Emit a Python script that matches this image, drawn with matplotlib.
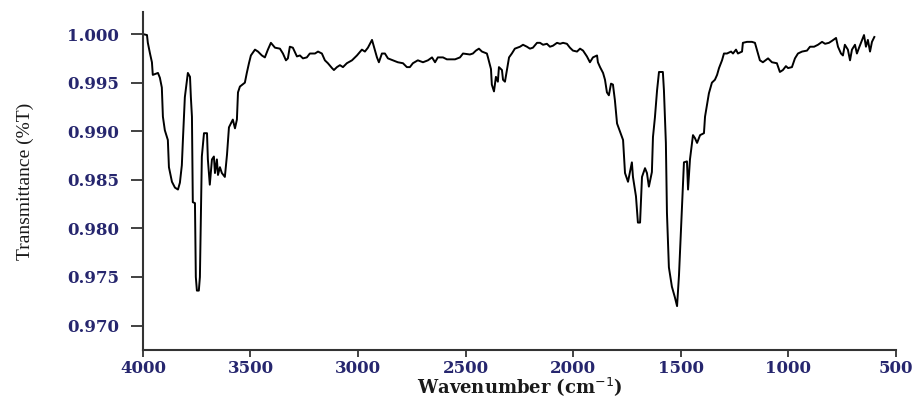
import matplotlib
matplotlib.use("Agg")
import matplotlib.pyplot as plt

# FTIR spectrum
wavenumber = [
    4000, 3981, 3977, 3967, 3958, 3954, 3930, 3921, 3912, 3907,
    3898, 3884, 3879, 3865, 3851, 3837, 3828, 3819, 3814, 3805,
    3791, 3781, 3777, 3772, 3768, 3758, 3754, 3749, 3740, 3735,
    3730, 3726, 3716, 3702, 3698, 3689, 3679, 3670, 3665, 3656,
    3651, 3642, 3633, 3619, 3609, 3600, 3582, 3572, 3563, 3558,
    3549, 3526, 3517, 3507, 3498, 3479, 3465, 3447, 3433, 3419,
    3405, 3386, 3363, 3349, 3335, 3326, 3317, 3303, 3284, 3270,
    3256, 3238, 3224, 3200, 3186, 3168, 3154, 3140, 3121, 3112,
    3098, 3084, 3070, 3052, 3028, 3005, 2982, 2968, 2954, 2935,
    2926, 2912, 2903, 2889, 2875, 2861, 2838, 2815, 2791, 2773,
    2759, 2745, 2722, 2698, 2675, 2656, 2642, 2629, 2605, 2587,
    2563, 2549, 2526, 2512, 2480, 2466, 2452, 2438, 2424, 2401,
    2396, 2382, 2378, 2368, 2359, 2350, 2345, 2331, 2326, 2317,
    2308, 2298, 2285, 2271, 2247, 2233, 2215, 2201, 2187, 2168,
    2154, 2140, 2122, 2108, 2094, 2075, 2061, 2047, 2029, 2015,
    2001, 1982, 1968, 1954, 1936, 1922, 1908, 1889, 1885, 1875,
    1861, 1852, 1843, 1834, 1824, 1815, 1806, 1796, 1768, 1759,
    1745, 1727, 1722, 1708, 1699, 1689, 1680, 1666, 1657, 1648,
    1634, 1629, 1620, 1610, 1601, 1583, 1578, 1569, 1564, 1555,
    1541, 1527, 1517, 1508, 1494, 1485, 1471, 1466, 1457, 1443,
    1434, 1424, 1410, 1392, 1387, 1378, 1369, 1355, 1341, 1331,
    1322, 1308, 1299, 1285, 1266, 1257, 1243, 1234, 1215, 1211,
    1192, 1169, 1155, 1146, 1132, 1118, 1094, 1076, 1053, 1039,
    1025, 1011, 1001, 983, 969, 955, 936, 913, 899, 880,
    862, 843, 829, 811, 797, 778, 769, 755, 746, 737,
    723, 713, 704, 690, 681, 671, 657, 648, 639, 630,
    620, 611, 600,
]
transmittance = [
    1.0000, 0.9999, 0.9991, 0.9980, 0.9971, 0.9958, 0.9960, 0.9955, 0.9945, 0.9915,
    0.9901, 0.9891, 0.9863, 0.9848, 0.9842, 0.9840, 0.9847, 0.9865, 0.9891, 0.9935,
    0.9960, 0.9956, 0.9935, 0.9915, 0.9827, 0.9826, 0.9750, 0.9736, 0.9736, 0.9750,
    0.9817, 0.9874, 0.9898, 0.9898, 0.9871, 0.9845, 0.9871, 0.9874, 0.9857, 0.9871,
    0.9855, 0.9863, 0.9857, 0.9853, 0.9876, 0.9904, 0.9912, 0.9903, 0.9912, 0.9940,
    0.9946, 0.9950, 0.9960, 0.9970, 0.9978, 0.9984, 0.9982, 0.9978, 0.9976, 0.9984,
    0.9991, 0.9986, 0.9985, 0.9980, 0.9973, 0.9975, 0.9987, 0.9986, 0.9977, 0.9978,
    0.9975, 0.9976, 0.9980, 0.9980, 0.9982, 0.9980, 0.9973, 0.9970, 0.9965, 0.9963,
    0.9966, 0.9968, 0.9966, 0.9970, 0.9973, 0.9978, 0.9984, 0.9982, 0.9986, 0.9994,
    0.9987, 0.9976, 0.9971, 0.9980, 0.9980, 0.9975, 0.9973, 0.9971, 0.9970, 0.9966,
    0.9966, 0.9970, 0.9973, 0.9971, 0.9973, 0.9976, 0.9971, 0.9976, 0.9976, 0.9974,
    0.9974, 0.9974, 0.9976, 0.9980, 0.9979, 0.9980, 0.9983, 0.9985, 0.9982, 0.9980,
    0.9976, 0.9964, 0.9948, 0.9941, 0.9956, 0.9951, 0.9966, 0.9963, 0.9953, 0.9951,
    0.9963, 0.9976, 0.9980, 0.9985, 0.9987, 0.9989, 0.9987, 0.9985, 0.9986, 0.9991,
    0.9991, 0.9989, 0.9990, 0.9987, 0.9988, 0.9991, 0.9990, 0.9991, 0.9990, 0.9986,
    0.9983, 0.9982, 0.9985, 0.9983, 0.9977, 0.9971, 0.9976, 0.9978, 0.9971, 0.9966,
    0.9960, 0.9953, 0.9940, 0.9937, 0.9949, 0.9948, 0.9932, 0.9908, 0.9891, 0.9857,
    0.9848, 0.9868, 0.9853, 0.9833, 0.9806, 0.9806, 0.9853, 0.9862, 0.9857, 0.9843,
    0.9858, 0.9894, 0.9914, 0.9942, 0.9961, 0.9961, 0.9942, 0.9888, 0.9816, 0.9760,
    0.9740, 0.9729, 0.9720, 0.9752, 0.9824, 0.9868, 0.9869, 0.9840, 0.9871, 0.9896,
    0.9893, 0.9888, 0.9896, 0.9898, 0.9915, 0.9927, 0.9939, 0.9950, 0.9953, 0.9958,
    0.9965, 0.9973, 0.9980, 0.9980, 0.9982, 0.9980, 0.9984, 0.9980, 0.9982, 0.9991,
    0.9992, 0.9992, 0.9991, 0.9984, 0.9973, 0.9971, 0.9975, 0.9971, 0.9970, 0.9961,
    0.9963, 0.9967, 0.9965, 0.9966, 0.9975, 0.9980, 0.9982, 0.9983, 0.9987, 0.9987,
    0.9989, 0.9992, 0.9990, 0.9991, 0.9993, 0.9996, 0.9987, 0.9980, 0.9978, 0.9989,
    0.9984, 0.9973, 0.9984, 0.9989, 0.9980, 0.9986, 0.9994, 0.9999, 0.9987, 0.9994,
    0.9982, 0.9992, 0.9997,
]

x_ticks = [4000, 3500, 3000, 2500, 2000, 1500, 1000, 500]
y_ticks = [0.970, 0.975, 0.980, 0.985, 0.990, 0.995, 1.000]

tick_color = "#26266e"
spine_color = "#333333"

fig = plt.figure(figsize=(9.16, 4.04), dpi=100)
ax = fig.add_axes([0.156, 0.134, 0.822, 0.836])

ax.plot(wavenumber, transmittance, color="black", linewidth=1.4)

ax.set_xlim(4000, 500)
ax.set_ylim(0.9675, 1.00226)

ax.set_xticks(x_ticks)
ax.set_xticklabels([str(t) for t in x_ticks])
ax.set_yticks(y_ticks)
ax.set_yticklabels(["%.3f" % t for t in y_ticks])

for side in ["top", "right"]:
    ax.spines[side].set_visible(False)
for side in ["left", "bottom"]:
    ax.spines[side].set_color(spine_color)
    ax.spines[side].set_linewidth(1.5)

ax.tick_params(axis="y", direction="out", length=9, width=1.3, pad=8,
               colors=spine_color, labelcolor=tick_color)
ax.tick_params(axis="x", direction="out", length=5, width=1.3, pad=2,
               colors=spine_color, labelcolor=tick_color)

for lab in ax.get_xticklabels() + ax.get_yticklabels():
    lab.set_fontfamily("DejaVu Serif")
    lab.set_fontweight("bold")
    lab.set_fontsize(12)

ax.set_ylabel("Transmittance (%T)", family="Liberation Serif", fontsize=14,
              color="#1a1a1a", labelpad=24)
ax.set_xlabel("Wavenumber (cm$^{-1}$)", family="DejaVu Serif", fontweight="bold",
              fontsize=13, color="#1a1a1a", labelpad=-1)

fig.savefig("out.png", dpi=100)
